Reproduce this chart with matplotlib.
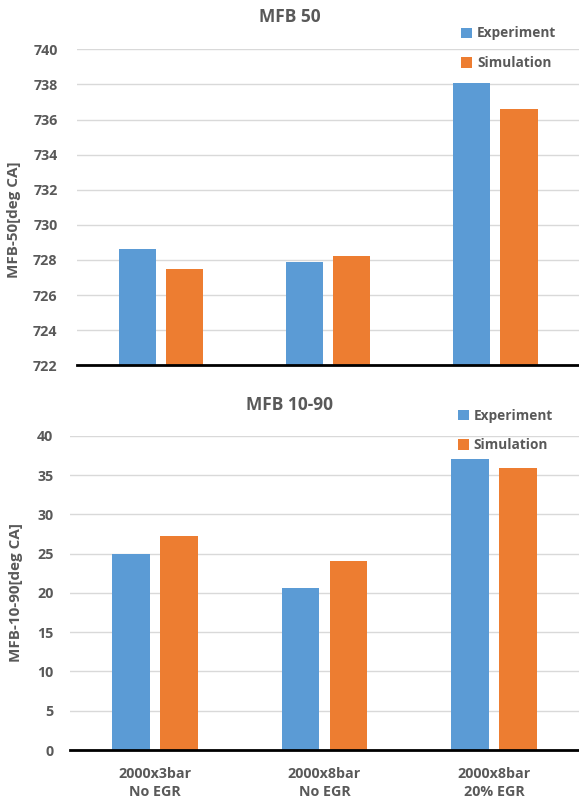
import numpy as np
import matplotlib.pyplot as plt

categories = ['2000x3bar\nNo EGR', '2000x8bar\nNo EGR', '2000x8bar\n20% EGR']
mfb50_exp = [728.6, 727.9, 738.1]
mfb50_sim = [727.5, 728.2, 736.6]
mfb1090_exp = [24.9, 20.6, 37.0]
mfb1090_sim = [27.2, 24.1, 35.9]

blue = '#5B9BD5'
orange = '#ED7D31'
gray = '#595959'

plt.rcParams['font.family'] = ['Open Sans', 'DejaVu Sans']
plt.rcParams['font.weight'] = 'bold'

fig = plt.figure(figsize=(5.79, 8.02), dpi=100)
ax1 = fig.add_axes([0.133, 0.5445, 0.867, 0.394])
ax2 = fig.add_axes([0.121, 0.0648, 0.879, 0.3919])

x = np.arange(len(categories))
w = 0.222
off = 0.141


def style(ax, ylim, step, ylabel, pad):
    ax.set_xlim(-0.5, 2.5)
    ax.set_ylim(*ylim)
    ax.set_yticks(np.arange(ylim[0], ylim[1] + step / 2, step))
    ax.grid(axis='y', color='#d9d9d9', lw=1)
    ax.set_axisbelow(True)
    for s in ['top', 'right', 'left']:
        ax.spines[s].set_visible(False)
    ax.spines['bottom'].set_color('black')
    ax.spines['bottom'].set_linewidth(2)
    ax.spines['bottom'].set_zorder(5)
    ax.tick_params(axis='both', length=0, labelsize=10.3, labelcolor=gray)
    ax.tick_params(axis='y', pad=pad)
    ax.set_ylabel(ylabel, fontsize=11, color=gray, fontweight='bold')


# top panel: MFB 50
ax1.bar(x - off, mfb50_exp, w, color=blue, label='Experiment')
ax1.bar(x + off, mfb50_sim, w, color=orange, label='Simulation')
style(ax1, (722, 740), 2, 'MFB-50[deg CA]', 14)
ax1.set_xticks(x)
ax1.set_xticklabels([])
ax1.yaxis.set_label_coords(-0.112, 0.46)

# bottom panel: MFB 10-90
ax2.bar(x - off, mfb1090_exp, w, color=blue, label='Experiment')
ax2.bar(x + off, mfb1090_sim, w, color=orange, label='Simulation')
style(ax2, (0, 40), 5, 'MFB-10-90[deg CA]', 12)
ax2.set_xticks(x)
ax2.set_xticklabels(categories, linespacing=1.35)
ax2.tick_params(axis='x', pad=12)
ax2.yaxis.set_label_coords(-0.092, 0.5)

fig.text(0.5, 0.979, 'MFB 50', ha='center', va='center', fontsize=12.5,
         color=gray, fontweight='bold')
fig.text(0.5, 0.495, 'MFB 10-90', ha='center', va='center', fontsize=12.5,
         color=gray, fontweight='bold')

for ax, pos in [(ax1, (0.797, 0.967)), (ax2, (0.791, 0.4905))]:
    leg = ax.legend(loc='upper left', bbox_to_anchor=pos,
                    bbox_transform=fig.transFigure, frameon=False,
                    fontsize=9.8, handlelength=0.8, handleheight=0.8,
                    handletextpad=0.35, labelspacing=1.15, borderpad=0,
                    borderaxespad=0)
    for t in leg.get_texts():
        t.set_color(gray)

plt.savefig('out.png', dpi=100)
